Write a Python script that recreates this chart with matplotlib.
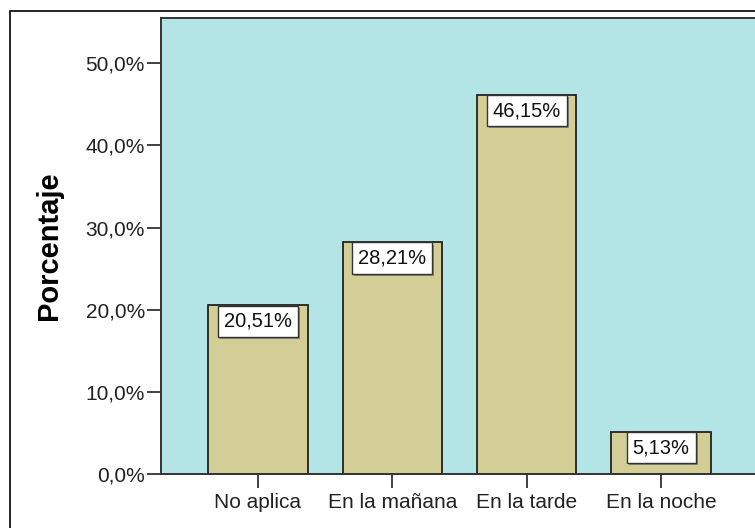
import matplotlib.pyplot as plt
import matplotlib.patheffects as pe
from matplotlib.patches import Rectangle

categorias = ['No aplica', 'En la mañana', 'En la tarde', 'En la noche']
porcentajes = [20.51, 28.21, 46.15, 5.13]
etiquetas = ['20,51%', '28,21%', '46,15%', '5,13%']
yticks = [0, 10, 20, 30, 40, 50]
ytick_labels = ['0,0%', '10,0%', '20,0%', '30,0%', '40,0%', '50,0%']


def main():
    plt.rcParams['font.family'] = ['Liberation Sans', 'DejaVu Sans']
    fig = plt.figure(figsize=(7.55, 5.28), dpi=100)

    # outer frame (cropped on right and bottom)
    fig.patches.append(Rectangle((10 / 755, -0.1), 1.2, 1.1 - 11 / 528,
                                 transform=fig.transFigure, fill=False,
                                 edgecolor='black', linewidth=1.2))

    ax = fig.add_axes([161 / 755, 54 / 528, 1 - 161 / 755 + 0.004, 456 / 528])
    ax.set_facecolor('#b4e5e6')

    x = list(range(len(categorias)))
    ax.bar(x, porcentajes, width=0.74, color='#d3cd96', edgecolor='#222222',
           linewidth=1.3, zorder=2)

    for xi, v, lab in zip(x, porcentajes, etiquetas):
        t = ax.annotate(lab, (xi, v), xytext=(0, -4.5), textcoords='offset points',
                        ha='center', va='top', fontsize=14.5, color='#111111', zorder=3,
                        bbox=dict(boxstyle='square,pad=0.3', facecolor='white',
                                  edgecolor='#333333', linewidth=1.0))
        t.get_bbox_patch().set_path_effects(
            [pe.SimplePatchShadow(offset=(1.5, -1.5), shadow_rgbFace='#777777', alpha=0.8),
             pe.Normal()])

    ax.set_xlim(-0.72, 3.72)
    ax.set_ylim(0, 55.5)
    ax.set_xticks(x)
    ax.set_xticklabels(categorias, fontsize=15, color='#222222')
    ax.set_yticks(yticks)
    ax.set_yticklabels(ytick_labels, fontsize=15, color='#222222')
    ax.tick_params(axis='both', length=10, width=1.3, color='#333333')
    ax.tick_params(axis='x', pad=4)
    ax.tick_params(axis='y', pad=1.5)
    for s in ax.spines.values():
        s.set_color('#333333')
        s.set_linewidth(1.4)
    ax.set_ylabel('Porcentaje', fontsize=21, fontweight='bold', labelpad=16)

    fig.savefig('out.png', dpi=100, facecolor='white')


if __name__ == "__main__":
    main()
